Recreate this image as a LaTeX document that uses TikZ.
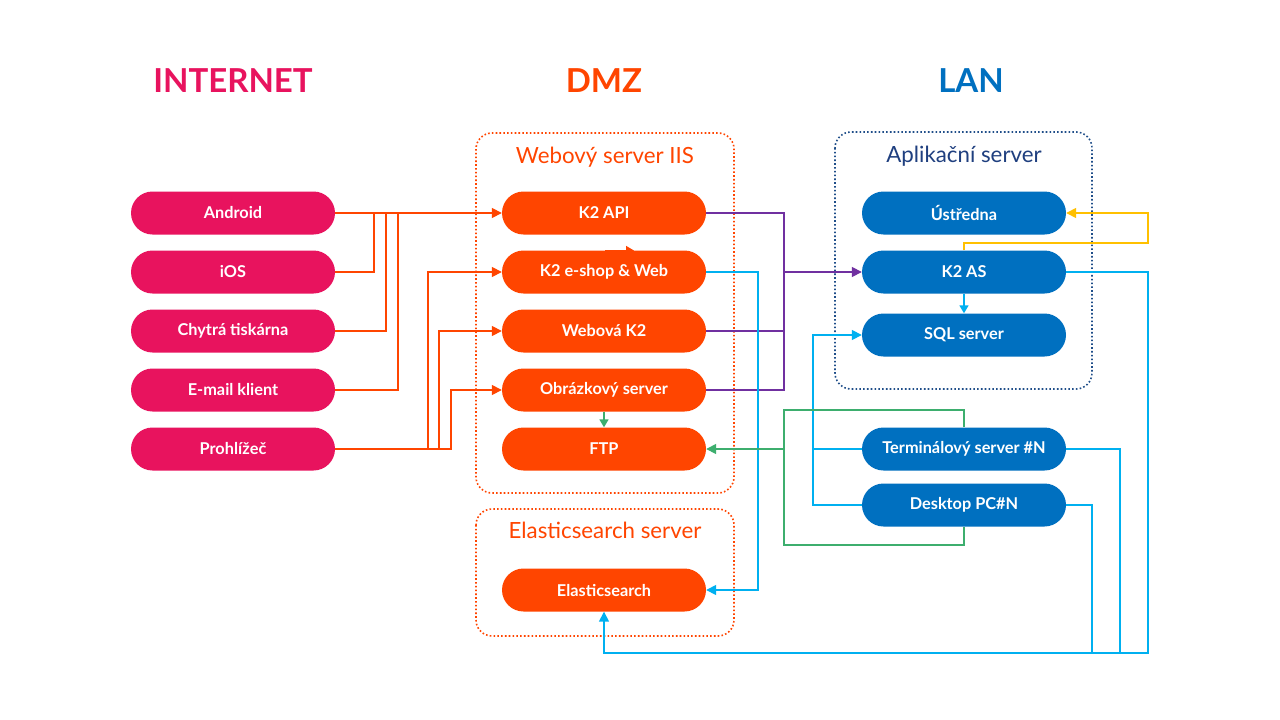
\documentclass[tikz,border=0pt]{standalone}
\usepackage{fontspec}
\setmainfont{Lato}
\usetikzlibrary{arrows.meta}
\definecolor{cInet}{HTML}{E8135E}
\definecolor{cDmz}{HTML}{FF4500}
\definecolor{cLan}{HTML}{0070C0}
\definecolor{cLanBox}{HTML}{1F4E89}
\definecolor{cLanTitle}{HTML}{1F3F7F}
\definecolor{cPur}{HTML}{7030A0}
\definecolor{cCy}{HTML}{00B0F0}
\definecolor{cYel}{HTML}{FFC000}
\definecolor{cGrn}{HTML}{3DAE6E}
\tikzset{
  pill/.style={rectangle, rounded corners=21.5pt, minimum width=204pt, minimum height=43pt, inner sep=0pt,
    text=white, font=\fontsize{16.3}{19}\selectfont\bfseries},
  ibox/.style={pill, fill=cInet},
  dbox/.style={pill, fill=cDmz},
  lbox/.style={pill, fill=cLan},
  zone/.style={font=\fontsize{33}{40}\selectfont\bfseries},
  frametitle/.style={font=\fontsize{22.3}{26}\selectfont},
  frameline/.style={line width=1.6pt, rounded corners=16pt, dash pattern=on 1.6pt off 2.2pt},
  conn/.style={line width=1.6pt},
  arr/.style={-{Triangle[length=10pt,width=10pt]}},
  sarr/.style={-{Triangle[length=8pt,width=9pt]}},
  orl/.style={conn, draw=cDmz},
  pur/.style={conn, draw=cPur},
  cyl/.style={conn, draw=cCy},
  yel/.style={conn, draw=cYel},
  grn/.style={conn, draw=cGrn},
}
\begin{document}
\begin{tikzpicture}[x=1pt,y=-1pt]
\useasboundingbox[fill=white] (0,0) rectangle (1280,720);

% zone titles
\node[zone, text=cInet] (tInet) at (233,81) {INTERNET};
\node[zone, text=cDmz] (tDmz) at (604,81) {DMZ};
\node[zone, text=cLan] (tLan) at (971,81) {LAN};

% frames
\draw[frameline, draw=cDmz] (476,133) rectangle (734,493);
\node[frametitle, text=cDmz] (tWeb) at (605,157) {Webový server IIS};
\draw[frameline, draw=cDmz] (476,509) rectangle (734,636);
\node[frametitle, text=cDmz] (tEl) at (605,530) {Elasticsearch server};
\draw[frameline, draw=cLanBox] (835,132) rectangle (1092,389);
\node[frametitle, text=cLanTitle] (tApp) at (964,156) {Aplikační server};

% small arrow partly hidden behind e-shop box
\coordinate (sa1) at (605,250.5);
\coordinate (sa2) at (634,250.5);
\draw[orl, sarr] (sa1) -- (sa2);

% internet nodes
\node[ibox] (android) at (233,213) {Android};
\node[ibox] (ios) at (233,272) {iOS};
\node[ibox] (tisk) at (233,331) {Chytrá tiskárna};
\node[ibox] (mail) at (233,390) {E-mail klient};
\node[ibox] (prohl) at (233,449) {Prohlížeč};

% DMZ nodes
\node[dbox] (api) at (604,213) {K2 API};
\node[dbox] (eshop) at (604,272) {K2 e-shop \& Web};
\node[dbox] (webk2) at (604,331) {Webová K2};
\node[dbox] (obr) at (604,390) {Obrázkový server};
\node[dbox] (ftp) at (604,449) {FTP};
\node[dbox] (elastic) at (604,590) {Elasticsearch};

% LAN nodes
\node[lbox] (ustr) at (964,213) {Ústředna};
\node[lbox] (k2as) at (964,272) {K2 AS};
\node[lbox] (sql) at (964,335) {SQL server};
\node[lbox] (term) at (964,449) {Terminálový server \#N};
\node[lbox] (desk) at (964,505) {Desktop PC\#N};

% orange: internet -> DMZ
\draw[orl, arr] (android.east) -- (api.west);
\draw[orl] (ios.east) -| ([xshift=39pt]android.east);
\draw[orl] (tisk.east) -| ([xshift=51pt]android.east);
\draw[orl] (mail.east) -| ([xshift=63pt]android.east);
\draw[orl, arr] (prohl.east) -| ([xshift=-74pt]eshop.west) -- (eshop.west);
\draw[orl, arr] (prohl.east) -| ([xshift=-63pt]webk2.west) -- (webk2.west);
\draw[orl, arr] (prohl.east) -| ([xshift=-51pt]obr.west) -- (obr.west);

% purple: DMZ -> K2 AS
\coordinate (pv) at (784,0);
\draw[pur] (api.east) -| (pv |- obr.east) -- (obr.east);
\draw[pur] (webk2.east) -- (pv |- webk2.east);
\draw[pur, arr] (pv |- k2as.west) -- (k2as.west);

% cyan
\coordinate (cv) at (758,0);
\draw[cyl, arr] (eshop.east) -| (cv |- elastic.east) -- (elastic.east);
\coordinate (sv) at (813,0);
\draw[cyl, arr] (desk.west) -| (sv |- sql.west) -- (sql.west);
\draw[cyl] (term.west) -- (sv |- term.west);
\draw[cyl, sarr] (k2as.south) -- (sql.north);
\coordinate (bv) at (0,653);
\coordinate (rx) at (1148,0);
\draw[cyl, arr] (k2as.east) -| (rx |- bv) -| (elastic.south);
\coordinate (tx) at (1120,653);
\coordinate (dx) at (1092,653);
\draw[cyl] (term.east) -| (tx);
\draw[cyl] (desk.east) -| (dx);

% yellow
\coordinate (yc) at (1148,243);
\draw[yel, arr] (k2as.north) |- (yc) |- (ustr.east);

% green
\coordinate (g1) at (784,410);
\coordinate (g2) at (784,545);
\draw[grn] (term.north) |- (g1) -- (g2) -| (desk.south);
\draw[grn, arr] (g1 |- ftp.east) -- (ftp.east);
\draw[grn, sarr] (obr.south) -- (ftp.north);
\end{tikzpicture}
\end{document}
